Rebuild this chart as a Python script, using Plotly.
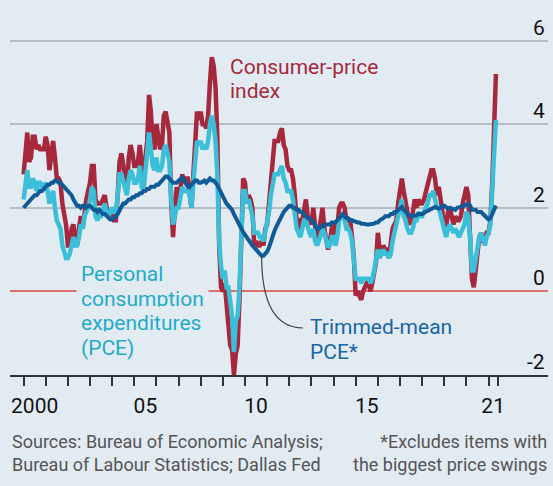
import plotly.graph_objects as go

# ---------------- data (% change on a year earlier, monthly, Jan 2000 - May 2021) -------------
start_year = 2000
cpi = [
    2.8, 3.2, 3.8, 3.1, 3.2, 3.7, 3.7, 3.4, 3.5, 3.4, 3.4, 3.4,   # 2000
    3.7, 3.5, 2.9, 3.3, 3.6, 3.2, 2.7, 2.7, 2.6, 2.1, 1.9, 1.6,   # 2001
    1.1, 1.1, 1.5, 1.6, 1.2, 1.1, 1.5, 1.8, 1.5, 2.0, 2.2, 2.4,   # 2002
    2.6, 3.0, 3.0, 2.2, 2.1, 2.1, 2.1, 2.2, 2.3, 2.0, 1.8, 1.9,   # 2003
    1.9, 1.7, 1.7, 2.3, 3.1, 3.3, 3.0, 2.7, 2.5, 3.2, 3.5, 3.3,   # 2004
    3.0, 3.0, 3.1, 3.5, 2.8, 2.5, 3.2, 3.6, 4.7, 4.3, 3.5, 3.4,   # 2005
    4.0, 3.6, 3.4, 3.5, 4.2, 4.3, 4.1, 3.8, 2.1, 1.3, 2.0, 2.5,   # 2006
    2.1, 2.4, 2.8, 2.6, 2.7, 2.7, 2.4, 2.0, 2.8, 3.5, 4.3, 4.1,   # 2007
    4.3, 4.0, 4.0, 3.9, 4.2, 5.0, 5.6, 5.4, 4.9, 3.7, 1.1, 0.1,   # 2008
    0.0, 0.2, -0.4, -0.7, -1.3, -1.4, -2.0, -1.5, -1.3, -0.2, 1.8, 2.7,  # 2009
    2.6, 2.1, 2.3, 2.2, 2.0, 1.1, 1.2, 1.1, 1.1, 1.2, 1.1, 1.5,   # 2010
    1.6, 2.1, 2.7, 3.2, 3.6, 3.6, 3.6, 3.8, 3.9, 3.5, 3.4, 3.0,   # 2011
    2.9, 2.9, 2.7, 2.3, 1.7, 1.7, 1.4, 1.7, 2.0, 2.2, 1.8, 1.7,   # 2012
    1.6, 2.0, 1.5, 1.1, 1.4, 1.8, 2.0, 1.5, 1.2, 1.0, 1.2, 1.5,   # 2013
    1.6, 1.1, 1.5, 2.0, 2.1, 2.1, 2.0, 1.7, 1.7, 1.7, 1.3, 0.8,   # 2014
    -0.1, 0.0, -0.1, -0.2, 0.0, 0.1, 0.2, 0.2, 0.0, 0.2, 0.5, 0.7,  # 2015
    1.4, 1.0, 0.9, 1.1, 1.0, 1.0, 0.8, 1.1, 1.5, 1.6, 1.7, 2.1,   # 2016
    2.5, 2.7, 2.4, 2.2, 1.9, 1.6, 1.7, 1.9, 2.2, 2.0, 2.2, 2.1,   # 2017
    2.1, 2.2, 2.4, 2.5, 2.8, 2.9, 2.9, 2.7, 2.3, 2.5, 2.2, 1.9,   # 2018
    1.6, 1.5, 1.9, 2.0, 1.8, 1.6, 1.8, 1.7, 1.7, 1.8, 2.1, 2.3,   # 2019
    2.5, 2.3, 1.5, 0.3, 0.1, 0.6, 1.0, 1.3, 1.4, 1.2, 1.2, 1.4,   # 2020
    1.4, 1.7, 2.6, 4.2, 5.2,                                      # 2021
]
pce = [
    2.2, 2.5, 2.9, 2.5, 2.5, 2.7, 2.6, 2.4, 2.6, 2.6, 2.5, 2.5,   # 2000
    2.6, 2.4, 2.1, 2.3, 2.4, 2.0, 1.7, 1.6, 1.5, 1.1, 0.9, 0.8,   # 2001
    0.8, 0.9, 1.1, 1.3, 1.1, 1.1, 1.3, 1.6, 1.5, 1.8, 1.9, 2.0,   # 2002
    2.2, 2.5, 2.4, 1.8, 1.7, 1.8, 1.8, 2.0, 2.1, 1.9, 1.8, 1.9,   # 2003
    2.0, 1.9, 1.9, 2.3, 2.8, 2.8, 2.6, 2.4, 2.3, 2.7, 2.9, 2.8,   # 2004
    2.6, 2.6, 2.7, 3.0, 2.5, 2.4, 2.9, 3.2, 3.8, 3.4, 3.0, 2.9,   # 2005
    3.2, 2.9, 2.9, 3.0, 3.4, 3.5, 3.3, 3.1, 2.2, 1.6, 1.8, 2.0,   # 2006
    2.0, 2.3, 2.5, 2.4, 2.4, 2.4, 2.3, 2.0, 2.6, 3.0, 3.6, 3.5,   # 2007
    3.6, 3.4, 3.5, 3.4, 3.6, 4.0, 4.2, 4.0, 3.6, 2.8, 1.2, 0.6,   # 2008
    0.3, 0.5, 0.1, 0.1, -0.2, -0.6, -1.45, -0.7, -0.6, 0.1, 1.3, 2.4,  # 2009
    2.4, 2.1, 2.2, 2.0, 1.8, 1.4, 1.4, 1.4, 1.3, 1.3, 1.2, 1.4,   # 2010
    1.6, 1.9, 2.3, 2.6, 2.8, 2.8, 2.8, 2.9, 3.0, 2.7, 2.6, 2.4,   # 2011
    2.4, 2.4, 2.2, 1.9, 1.5, 1.4, 1.3, 1.5, 1.7, 1.7, 1.5, 1.4,   # 2012
    1.3, 1.5, 1.2, 1.1, 1.2, 1.4, 1.5, 1.4, 1.2, 1.05, 1.1, 1.3,  # 2013
    1.3, 1.1, 1.3, 1.7, 1.8, 1.8, 1.7, 1.5, 1.5, 1.4, 1.2, 0.8,   # 2014
    0.3, 0.3, 0.3, 0.2, 0.3, 0.3, 0.3, 0.3, 0.2, 0.3, 0.5, 0.7,   # 2015
    1.0, 0.8, 0.9, 1.0, 0.9, 0.9, 0.8, 0.9, 1.2, 1.4, 1.5, 1.7,   # 2016
    2.0, 2.2, 1.8, 1.7, 1.5, 1.4, 1.4, 1.5, 1.7, 1.7, 1.9, 1.8,   # 2017
    1.8, 1.9, 2.0, 2.1, 2.3, 2.3, 2.4, 2.2, 2.0, 2.0, 1.8, 1.7,   # 2018
    1.4, 1.3, 1.5, 1.6, 1.5, 1.4, 1.5, 1.4, 1.3, 1.4, 1.5, 1.6,   # 2019
    1.9, 1.8, 1.3, 0.5, 0.5, 0.8, 1.0, 1.3, 1.4, 1.2, 1.1, 1.3,   # 2020
    1.4, 1.6, 2.5, 3.7, 4.1,                                      # 2021
]
trimmed = [
    2.0, 2.05, 2.1, 2.15, 2.2, 2.25, 2.3, 2.3, 2.35, 2.4, 2.4, 2.45,      # 2000
    2.5, 2.55, 2.55, 2.6, 2.6, 2.65, 2.65, 2.6, 2.6, 2.55, 2.5, 2.45,    # 2001
    2.4, 2.35, 2.3, 2.2, 2.1, 2.05, 2.05, 2.0, 2.05, 2.05, 2.0, 2.05,    # 2002
    2.05, 2.0, 1.95, 1.95, 1.9, 1.95, 1.9, 1.85, 1.85, 1.8, 1.75, 1.72,  # 2003
    1.72, 1.75, 1.8, 1.85, 1.95, 2.05, 2.1, 2.1, 2.15, 2.2, 2.2, 2.25,   # 2004
    2.25, 2.3, 2.3, 2.35, 2.35, 2.4, 2.4, 2.45, 2.45, 2.5, 2.5, 2.5,     # 2005
    2.55, 2.55, 2.6, 2.65, 2.7, 2.75, 2.75, 2.7, 2.65, 2.6, 2.6, 2.6,    # 2006
    2.65, 2.7, 2.72, 2.65, 2.55, 2.5, 2.5, 2.55, 2.6, 2.65, 2.65, 2.6,   # 2007
    2.6, 2.62, 2.65, 2.6, 2.65, 2.7, 2.65, 2.65, 2.6, 2.55, 2.45, 2.35,  # 2008
    2.25, 2.2, 2.1, 2.05, 2.0, 1.95, 1.85, 1.75, 1.65, 1.55, 1.5, 1.42,  # 2009
    1.35, 1.3, 1.25, 1.15, 1.1, 1.05, 1.0, 0.95, 0.9, 0.85, 0.85, 0.9,   # 2010
    0.95, 1.05, 1.2, 1.35, 1.45, 1.55, 1.65, 1.75, 1.85, 1.9, 1.95, 2.0, # 2011
    2.05, 2.05, 2.0, 2.0, 1.95, 1.95, 1.9, 1.9, 1.85, 1.8, 1.75, 1.75,   # 2012
    1.7, 1.65, 1.6, 1.5, 1.5, 1.55, 1.55, 1.6, 1.6, 1.6, 1.6, 1.65,      # 2013
    1.65, 1.65, 1.7, 1.75, 1.8, 1.85, 1.8, 1.75, 1.75, 1.7, 1.7, 1.68,   # 2014
    1.65, 1.65, 1.65, 1.62, 1.62, 1.6, 1.6, 1.6, 1.6, 1.62, 1.62, 1.65,  # 2015
    1.65, 1.7, 1.72, 1.75, 1.8, 1.8, 1.8, 1.85, 1.85, 1.9, 1.9, 1.95,    # 2016
    2.0, 2.02, 1.95, 1.9, 1.85, 1.82, 1.8, 1.8, 1.82, 1.82, 1.85, 1.85,  # 2017
    1.85, 1.88, 1.9, 1.92, 1.95, 1.98, 2.0, 2.02, 2.0, 1.98, 2.0, 2.05,  # 2018
    2.05, 2.0, 1.98, 2.0, 1.98, 1.98, 1.95, 2.0, 2.0, 2.02, 2.05, 2.05,  # 2019
    2.08, 2.1, 2.05, 1.95, 1.95, 1.95, 1.9, 1.9, 1.9, 1.85, 1.8, 1.75,   # 2020
    1.72, 1.75, 1.85, 2.0, 2.05,                                         # 2021
]
x_tick_labels = ["2000", "05", "10", "15", "21"]
x_label_years = [2000, 2005, 2010, 2015, 2021]
y_tick_values = [-2, 0, 2, 4, 6]
y_tick_labels = ["-2", "0", "2", "4", "6"]

# ---------------- styling ----------------
W, H = 553, 486
BG = "#e2ebf2"
CPI_C = "#a5283d"
PCE_C = "#3bbfd8"
PCE_TXT = "#1fabc8"
TM_C = "#0f5a97"
TM_TXT = "#1865a7"
GRID = "#b6bec5"
ZERO = "#e0706b"
AXIS = "#333333"
FONT = "Roboto"

ML, MR, MT, MB = 10, 5, 28, 111
PW, PH = W - ML - MR, H - MT - MB
X0, X1 = 1999.386, 2023.685
Y0, Y1 = -2.0, 6.3

n = len(cpi)
xs = [start_year + i / 12 for i in range(n)]
last_x = xs[-1] + 1 / 12


def px_x(px):  # pixel -> paper x
    return (px - ML) / PW


def px_y(py):  # pixel -> paper y
    return (H - MB - py) / PH


fig = go.Figure()
fig.add_trace(go.Scatter(x=xs, y=cpi, mode="lines", line=dict(color=CPI_C, width=4.5),
                         name="Consumer-price index"))
fig.add_trace(go.Scatter(x=xs, y=pce, mode="lines", line=dict(color=PCE_C, width=4.5),
                         name="PCE"))
fig.add_trace(go.Scatter(x=xs, y=trimmed, mode="lines", line=dict(color=TM_C, width=4),
                         name="Trimmed-mean PCE"))

# x tick labels centred in the year; year ticks as minor ticks
label_pos = [y + 0.5 for y in x_label_years[:-1]] + [(x_label_years[-1] + last_x) / 2]
year_ticks = list(range(start_year, 2022)) + [last_x]

fig.update_xaxes(
    range=[X0, X1], showgrid=False, zeroline=False,
    showline=True, linecolor=AXIS, linewidth=1.5,
    tickmode="array", tickvals=label_pos, ticktext=x_tick_labels, ticks="",
    ticklabelstandoff=11,
    tickfont=dict(family=FONT, size=21, color="#111111"),
    minor=dict(tickmode="array", tickvals=year_ticks, ticks="outside", ticklen=9,
               tickwidth=1.5, tickcolor=AXIS, showgrid=False),
)
fig.update_yaxes(
    range=[Y0, Y1], tickmode="array", tickvals=y_tick_values, showticklabels=False,
    showgrid=True, gridcolor=GRID, gridwidth=1.5,
    zeroline=True, zerolinecolor=ZERO, zerolinewidth=2,
)

ann = []
for v, t in zip(y_tick_values, y_tick_labels):
    ann.append(dict(x=1, xref="paper", y=v, yref="y", text=t, showarrow=False,
                    xanchor="right", yanchor="middle", yshift=13, xshift=-1,
                    font=dict(family=FONT, size=21, color="#111111")))


def label(text, px, py, color, bg=None, anchor="left", size=21):
    d = dict(x=px_x(px), y=px_y(py), xref="paper", yref="paper", text=text,
             showarrow=False, xanchor=anchor, yanchor="middle", align=anchor,
             font=dict(family=FONT, size=size, color=color))
    if bg:
        d.update(bgcolor=bg, borderpad=4)
    return d


ann.append(label("Consumer-price", 228, 67, CPI_C))
ann.append(label("index", 228, 91, CPI_C))
for i, t in enumerate(["Personal", "consumption", "expenditures", "(PCE)"]):
    ann.append(label(t, 76, 274 + i * 24.5, PCE_TXT, bg=BG))
ann.append(label("Trimmed-mean", 308, 327, TM_TXT))
ann.append(label("PCE*", 308, 352, TM_TXT))
ann.append(label("Sources: Bureau of Economic Analysis;<br>Bureau of Labour Statistics; Dallas Fed",
                 10, 453, "#555555", size=18))
ann.append(label("*Excludes items with<br>the biggest price swings", 549, 453, "#555555",
                 anchor="right", size=18))

# connector from trimmed-mean low point to its label
i_min = min(range(n), key=lambda i: trimmed[i] if 2010 <= xs[i] < 2011 else 99)
sx, sy = xs[i_min], trimmed[i_min]
ex = X0 + (303 - ML) / PW * (X1 - X0)
ey = Y1 - (328 - MT) / PH * (Y1 - Y0)
fig.add_shape(type="path", xref="x", yref="y", layer="above",
              path=f"M {sx},{sy} Q {sx},{ey} {ex},{ey}",
              line=dict(color="#444444", width=1.2))

fig.update_layout(
    width=W, height=H, margin=dict(l=ML, r=MR, t=MT, b=MB),
    paper_bgcolor=BG, plot_bgcolor=BG, showlegend=False,
    annotations=ann, font=dict(family=FONT),
)
fig.write_html(
    "out.html",
    config={"displayModeBar": False},
    post_script="document.body.style.margin='0';document.body.style.background='%s';" % BG,
)
